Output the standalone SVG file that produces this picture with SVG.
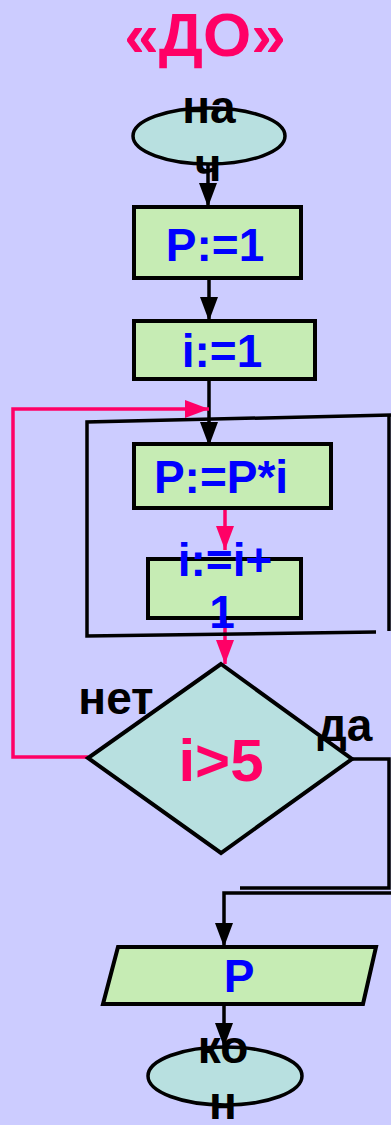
<svg xmlns="http://www.w3.org/2000/svg" width="391" height="1125" viewBox="0 0 391 1125">
<style>
.t{font-family:"Liberation Sans",Arial,sans-serif;font-weight:bold;text-anchor:middle}
.blue{fill:#0000FF;font-size:46px}
.blk{fill:#000;font-size:46px}
.box{fill:#C6ECB4;stroke:#000;stroke-width:4}
.term{fill:#B8E0E0;stroke:#000;stroke-width:3.5}
.k{fill:none;stroke:#000;stroke-width:3.5}
.p{fill:none;stroke:#FF0066;stroke-width:3.5}
</style>
<defs>
<marker id="ab" markerUnits="userSpaceOnUse" markerWidth="24" markerHeight="18" refX="24" refY="9" orient="auto"><path d="M0,0 L24,9 L0,18 z" fill="#000"/></marker>
<marker id="ap" markerUnits="userSpaceOnUse" markerWidth="24" markerHeight="18" refX="24" refY="9" orient="auto"><path d="M0,0 L24,9 L0,18 z" fill="#FF0066"/></marker>
</defs>
<rect width="391" height="1125" fill="#CCCCFF"/>
<text class="t" x="205" y="56" font-size="62" fill="#FF0066">«ДО»</text>
<g id="connectors">
<line class="k" x1="208" y1="165" x2="208" y2="207" marker-end="url(#ab)"/>
<line class="k" x1="209" y1="279" x2="209" y2="321" marker-end="url(#ab)"/>
<line class="k" x1="209" y1="379" x2="209" y2="446" marker-end="url(#ab)"/>
<line class="p" x1="225" y1="508" x2="225" y2="550" marker-end="url(#ap)"/>
<line class="p" x1="225" y1="618" x2="225" y2="664" marker-end="url(#ap)"/>
<polyline class="p" points="88,757 13,757 13,409 209,409" marker-end="url(#ap)"/>
<polyline class="k" points="352,759 389,759 389,888 240,888"/>
<polyline class="k" points="391,893 224,893 224,947" marker-end="url(#ab)"/>
<line class="k" x1="224" y1="1004" x2="224" y2="1047" marker-end="url(#ab)"/>
</g>
<g id="loop-frame">
<polyline class="k" points="391,415 87,422 87,636 376,632"/>
<line class="k" x1="389" y1="415" x2="389" y2="631"/>
</g>
<g id="start">
<ellipse class="term" cx="209" cy="136" rx="76" ry="28"/>
<text class="t blk" x="209" y="123">на</text>
<text class="t blk" x="208" y="181">ч</text>
</g>
<g id="p1">
<rect class="box" x="134" y="207" width="167" height="71"/>
<text class="t blue" x="215" y="261">P:=1</text>
</g>
<g id="i1">
<rect class="box" x="134" y="321" width="181" height="58"/>
<text class="t blue" x="222" y="367">i:=1</text>
</g>
<g id="pmul">
<rect class="box" x="134" y="444" width="197" height="64"/>
<text class="t blue" x="221" y="493">P:=P*i</text>
</g>
<g id="inc">
<rect class="box" x="148" y="559" width="153" height="59"/>
<text class="t blue" x="225" y="576">i:=i+</text>
<text class="t blue" x="222" y="628">1</text>
</g>
<g id="cond">
<polygon points="221,664 352,759 221,853 88,758" fill="#B8E0E0" stroke="#000" stroke-width="4"/>
<text class="t" x="221" y="781" font-size="60" fill="#FF0066">i&gt;5</text>
<text class="t blk" x="116" y="714">нет</text>
<text class="t blk" x="345" y="741">да</text>
</g>
<g id="out">
<polygon points="118,947 376,947 363,1004 103,1004" class="box"/>
<text class="t blue" x="239" y="992">P</text>
</g>
<g id="end">
<ellipse class="term" cx="225" cy="1076" rx="77" ry="29"/>
<text class="t blk" x="223" y="1063">ко</text>
<text class="t blk" x="223" y="1119">н</text>
</g>
</svg>
